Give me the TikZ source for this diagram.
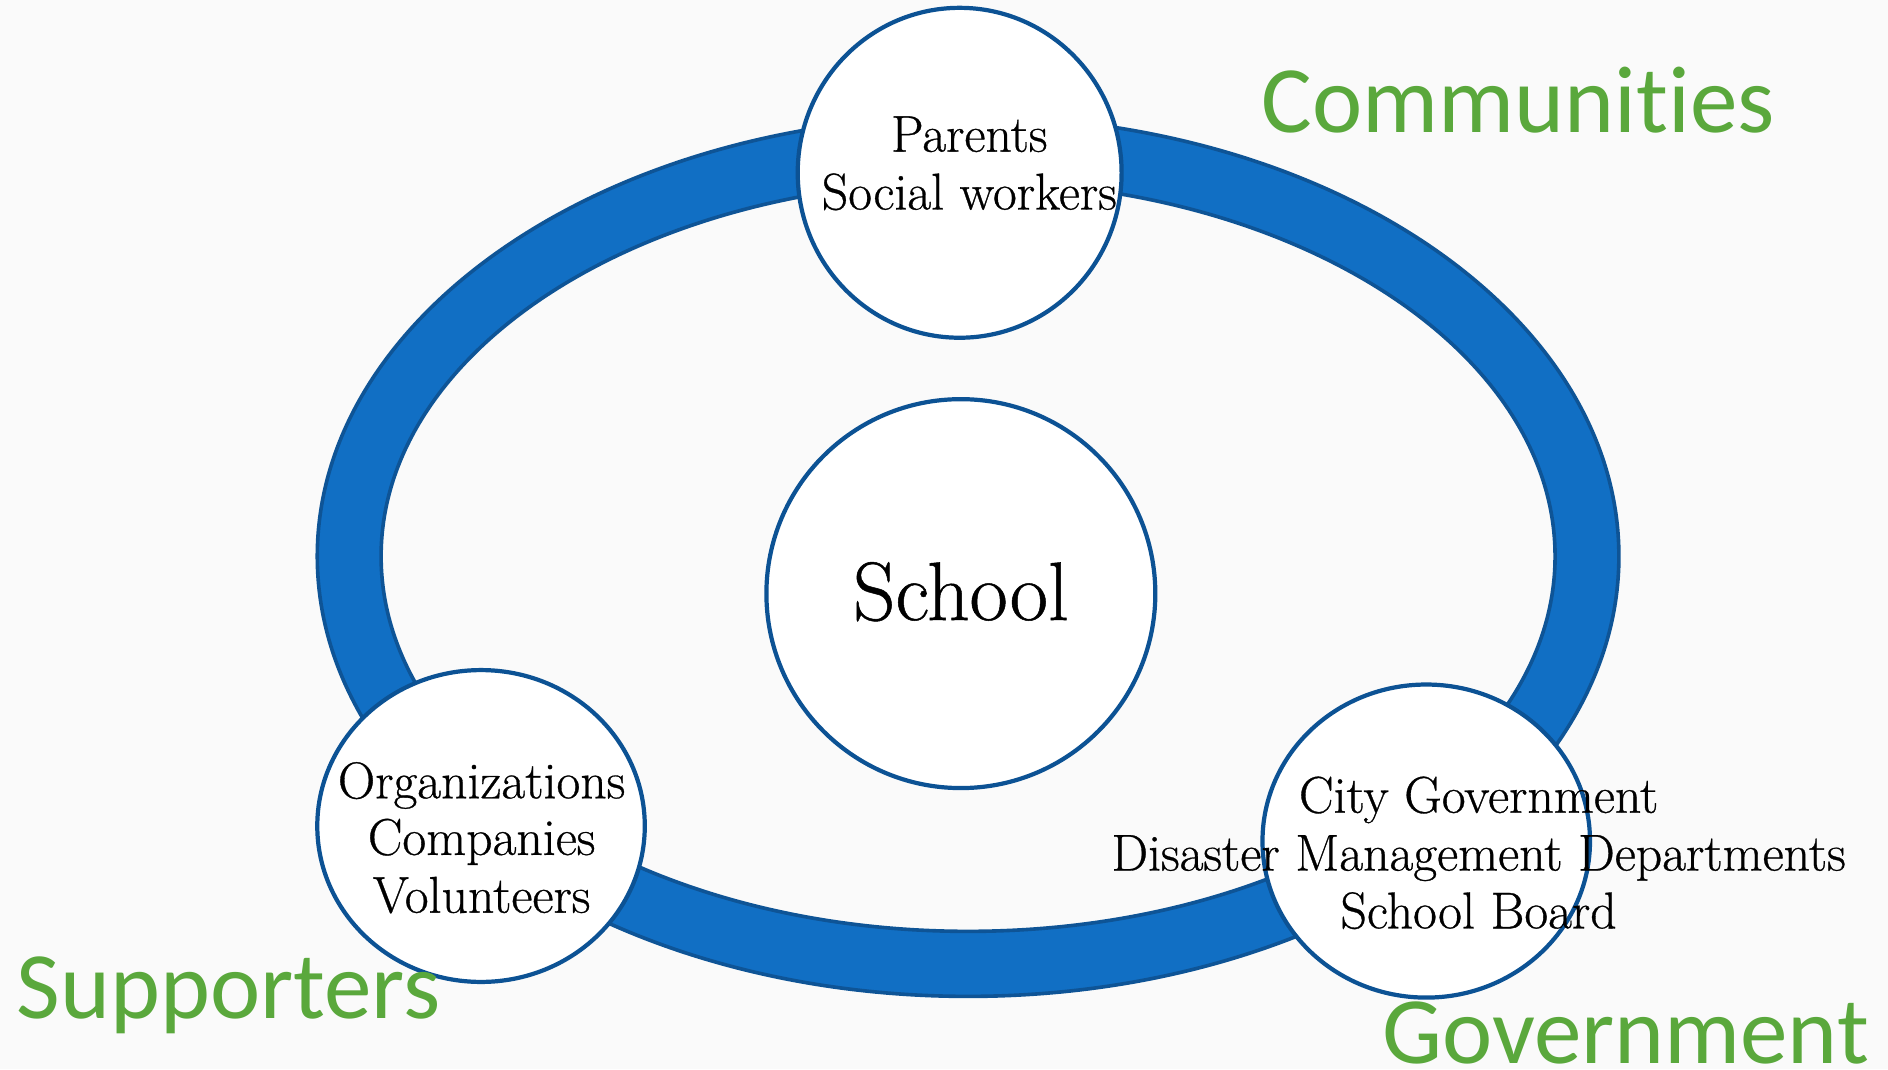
\documentclass[tikz,border=0pt]{standalone}
\usepackage{fontspec}
\setmainfont{Latin Modern Roman}[FakeBold=0.6]
\newfontfamily\greenfont{Carlito}[RawFeature={-liga,-dlig}]
\usetikzlibrary{shapes.geometric}
\definecolor{bg}{RGB}{250,250,250}
\definecolor{ringfill}{RGB}{17,111,196}
\definecolor{ringedge}{RGB}{14,84,150}
\definecolor{circedge}{RGB}{12,82,148}
\definecolor{grn}{RGB}{90,168,60}
\begin{document}
\begin{tikzpicture}[x=1pt,y=-1pt,
  bubble/.style={ellipse, draw=circedge, line width=3.5pt, fill=white, inner sep=0pt},
  lbl/.style={anchor=base, font=\fontsize{43}{48}\selectfont, text=black, inner sep=0pt},
  grp/.style={anchor=base, font=\greenfont\fontsize{79}{95}\selectfont, text=grn, inner sep=0pt}]
\fill[bg] (0,0) rectangle (1568,888);
\useasboundingbox (0,0) rectangle (1568,888);
\coordinate (rc) at (804,462);
\fill[ringfill, even odd rule] (rc) ellipse [x radius=540.5, y radius=365.5] (rc) ellipse [x radius=487.5, y radius=311.5];
\draw[ringedge, line width=3pt] (rc) ellipse [x radius=540.5, y radius=365.5];
\draw[ringedge, line width=3pt] (rc) ellipse [x radius=487.5, y radius=311.5];
% bubbles
\node[bubble, minimum width=269pt, minimum height=274pt] (top) at (797,143.5) {};
\node[bubble, minimum width=323pt, minimum height=323pt] (school) at (798,493) {};
\node[bubble, minimum width=272pt, minimum height=259pt] (left) at (399.5,686) {};
\node[bubble, minimum width=272pt, minimum height=260pt] (right) at (1184.5,698.5) {};
% labels
\node[lbl] (t1) at (805,126) {Parents};
\node[lbl] (t2) at (805,174) {Social workers};
\node[lbl, font=\fontsize{69}{80}\selectfont] (s1) at (798,515) {School};
\node[lbl] (l1) at (400,663) {Organizations};
\node[lbl] (l2) at (400,710) {Companies};
\node[lbl] (l3) at (400,758) {Volunteers};
\node[lbl] (r1) at (1228,675) {City Government};
\node[lbl] (r2) at (1228,723) {Disaster Management Departments};
\node[lbl] (r3) at (1228,771) {School Board};
\node[grp] (g1) at (1261,110) {Communities};
\node[grp] (g2) at (190,846) {Supporters};
\node[grp] (g3) at (1350,883) {Government};
\end{tikzpicture}
\end{document}
